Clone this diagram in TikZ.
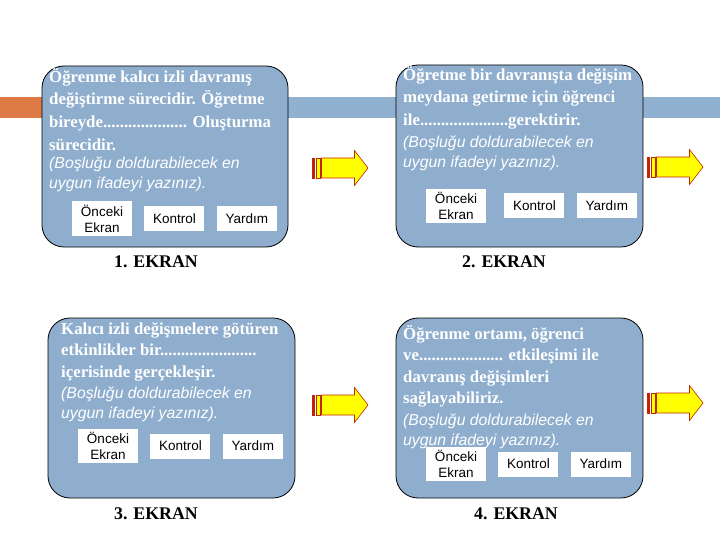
\documentclass[tikz,border=0pt]{standalone}
\usepackage{fontspec}
\setmainfont{Liberation Serif}
\setsansfont{Liberation Sans}
\usepackage{xcolor}
\usepackage{tikz}
\usetikzlibrary{positioning}
\definecolor{screenblue}{RGB}{143,174,206}
\definecolor{bandblue}{RGB}{145,177,208}
\definecolor{bandorange}{RGB}{221,122,70}
\definecolor{arrowyellow}{RGB}{255,255,0}
\definecolor{arrowred}{RGB}{210,20,20}
\definecolor{arrowedge}{RGB}{190,40,0}
\newcommand{\nextarrow}[2]{%
    \draw[arrow part, fill=arrowred] (#1,#2-10) rectangle ++(2.5,20);
    \draw[arrow part] (#1+4,#2-10) rectangle ++(4.5,20);
    \draw[arrow part] (#1+9.5,#2-10) -- ++(33,0) -- ++(0,-7.5) -- (#1+56,#2) -- (#1+42.5,#2+17.5) -- ++(0,-7.5) -- (#1+9.5,#2+10) -- cycle;
}
\tikzset{
    screen box/.style={
        rectangle,
        rounded corners=22pt,
        fill=screenblue,
        draw=black,
        line width=0.8pt,
        inner sep=0pt,
    },
    screen question/.style={
        font=\fontsize{16.8}{22.8}\selectfont\bfseries,
        text=white,
        align=left,
        inner sep=0pt,
        anchor=north west,
    },
    tight lines/.style={font=\fontsize{16.8}{21.5}\selectfont\bfseries},
    screen hint/.style={
        font=\fontsize{15.8}{20}\selectfont\sffamily\itshape,
        text=white,
        align=left,
        inner sep=0pt,
        anchor=north west,
        yshift=-6pt,
    },
    screen button/.style={
        rectangle,
        fill=white,
        draw=none,
        minimum width=60pt,
        minimum height=25pt,
        inner sep=0pt,
        align=center,
        font=\fontsize{13.5}{16}\selectfont\sffamily,
    },
    two line/.style={minimum height=34pt},
    screen label/.style={font=\fontsize{17.8}{20}\selectfont\bfseries, text=black, inner sep=0pt},
    arrow part/.style={fill=arrowyellow, draw=arrowedge, line width=0.6pt},
}

\begin{document}
\begin{tikzpicture}[x=1pt,y=-1pt]
    \useasboundingbox (0,0) rectangle (720,540);

    %title band behind the screens
    \fill[bandorange] (0,97) rectangle (42,118);
    \fill[bandblue] (42,97) rectangle (720,118);

    %1. screen
    \node[screen box, minimum width=246pt, minimum height=181pt] (box1) at (165,156.5) {};
    \node[screen question] (q1) at (49,68) {Öğrenme kalıcı izli davranış\\değiştirme sürecidir. Öğretme\\bireyde.................... Oluşturma\\sürecidir.};
    \node[screen hint] (h1) at (q1.south west) {(Boşluğu doldurabilecek en\\uygun ifadeyi yazınız).};
    \node[screen button, two line] (b1a) at (102,218.5) {Önceki\\Ekran};
    \node[screen button, right=12pt of b1a] (b1b) {Kontrol};
    \node[screen button, right=12pt of b1b] (b1c) {Yardım};
    \node[screen label] (l1) at (156,262) {1. EKRAN};

    %2. screen
    \node[screen box, minimum width=247pt, minimum height=182pt] (box2) at (519.5,156) {};
    \node[screen question] (q2) at (403,66) {Öğretme bir davranışta değişim\\meydana getirme için öğrenci\\ile.....................gerektirir.};
    \node[screen hint] (h2) at (q2.south west) {(Boşluğu doldurabilecek en\\uygun ifadeyi yazınız).};
    \node[screen button, two line] (b2a) at (456,206) {Önceki\\Ekran};
    \node[screen button, right=18pt of b2a] (b2b) {Kontrol};
    \node[screen button, right=12pt of b2b] (b2c) {Yardım};
    \node[screen label] (l2) at (504,262) {2. EKRAN};

    %3. screen
    \node[screen box, minimum width=247pt, minimum height=180pt] (box3) at (171.5,408) {};
    \node[screen question, tight lines] (q3) at (61,322) {Kalıcı izli değişmelere götüren\\etkinlikler bir.......................\\içerisinde gerçekleşir.};
    \node[screen hint] (h3) at (q3.south west) {(Boşluğu doldurabilecek en\\uygun ifadeyi yazınız).};
    \node[screen button, two line] (b3a) at (108,446) {Önceki\\Ekran};
    \node[screen button, right=12pt of b3a] (b3b) {Kontrol};
    \node[screen button, right=12pt of b3b] (b3c) {Yardım};
    \node[screen label] (l3) at (156,514) {3. EKRAN};

    %4. screen
    \node[screen box, minimum width=247pt, minimum height=180pt] (box4) at (519.5,408) {};
    \node[screen question, tight lines] (q4) at (403,325) {Öğrenme ortamı, öğrenci\\ve.................... etkileşimi ile\\davranış değişimleri\\sağlayabiliriz.};
    \node[screen hint] (h4) at (q4.south west) {(Boşluğu doldurabilecek en\\uygun ifadeyi yazınız).};
    \node[screen button, two line] (b4a) at (456,464) {Önceki\\Ekran};
    \node[screen button, right=12pt of b4a] (b4b) {Kontrol};
    \node[screen button, right=12pt of b4b] (b4c) {Yardım};
    \node[screen label] (l4) at (516,514) {4. EKRAN};

    %arrows to the next screen
    \nextarrow{312}{168}
    \nextarrow{647}{167}
    \nextarrow{312}{405}
    \nextarrow{647}{403}
\end{tikzpicture}
\end{document}
